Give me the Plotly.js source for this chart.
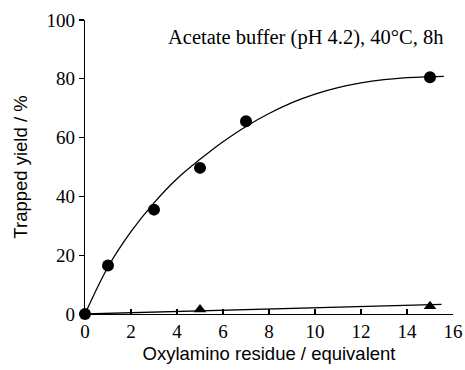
<!DOCTYPE html>
<html>
<head>
<meta charset="utf-8">
<script src="https://cdn.plot.ly/plotly-3.0.1.min.js"></script>
<style>
  html, body { margin: 0; padding: 0; background: #fff; }
  #chart { width: 465px; height: 370px; }
</style>
</head>
<body>
<div id="chart"></div>
<script>
// Measured trapped yields (%) vs. equivalents of oxylamino residue
const circleX = [0, 1, 3, 5, 7, 15];
const circleY = [0, 16.5, 35.5, 49.7, 65.6, 80.5];
const triangleX = [5, 15];
const triangleY = [1.5, 2.6];

// Smooth trend line through the circle series
const curveX = [0, 1, 2, 3, 4, 5, 6, 7, 8, 9, 10, 11, 12, 13, 14, 15, 15.6];
const curveY = [0, 16, 28, 37.8, 46, 52.6, 58.6, 63.8, 68.2, 71.9, 74.8, 77.0, 78.6, 79.7, 80.4, 80.7, 80.8];

// Straight trend line for the triangle series
const lineX = [0, 15.5];
const lineY = [0, 3.3];

const xTicks = [0, 2, 4, 6, 8, 10, 12, 14, 16];
const yTicks = [0, 20, 40, 60, 80, 100];

const serif = '"Liberation Serif", "Times New Roman", serif';
const sans = '"Liberation Sans", Arial, sans-serif';

const traces = [
  {
    x: curveX, y: curveY, mode: 'lines', type: 'scatter',
    line: { color: '#000', width: 1.3, shape: 'spline', smoothing: 1 },
    hoverinfo: 'skip', cliponaxis: false
  },
  {
    x: lineX, y: lineY, mode: 'lines', type: 'scatter',
    line: { color: '#000', width: 1.3 },
    hoverinfo: 'skip', cliponaxis: false
  },
  {
    x: triangleX, y: triangleY, mode: 'markers', type: 'scatter',
    marker: { symbol: 'triangle-up', size: 11, color: '#000' },
    cliponaxis: false
  },
  {
    x: circleX, y: circleY, mode: 'markers', type: 'scatter',
    marker: { symbol: 'circle', size: 12, color: '#000' },
    cliponaxis: false
  }
];

const layout = {
  width: 465, height: 370,
  margin: { l: 85, r: 12, t: 20, b: 56 },
  paper_bgcolor: '#fff', plot_bgcolor: '#fff',
  showlegend: false,
  xaxis: {
    range: [0, 16], tickvals: xTicks, ticktext: xTicks.map(String),
    ticks: 'inside', ticklen: 5, tickwidth: 1.2, tickcolor: '#000',
    showline: true, linecolor: '#000', linewidth: 1.3,
    showgrid: false, zeroline: false,
    tickfont: { family: serif, size: 19, color: '#000' },
    title: { text: 'Oxylamino residue / equivalent', font: { family: sans, size: 18.5, color: '#000' }, standoff: 6 }
  },
  yaxis: {
    range: [0, 100], tickvals: yTicks, ticktext: yTicks.map(String),
    ticks: 'outside', ticklen: 5, tickwidth: 1.2, tickcolor: '#000',
    showline: true, linecolor: '#000', linewidth: 1.3,
    showgrid: false, zeroline: false,
    tickfont: { family: serif, size: 19, color: '#000' },
    title: { text: 'Trapped yield / %', font: { family: sans, size: 18.5, color: '#000' }, standoff: 14 }
  },
  annotations: [{
    xref: 'paper', yref: 'paper', x: 0.977, y: 0.942, xanchor: 'right', yanchor: 'middle',
    text: 'Acetate buffer (pH 4.2), 40°C, 8h', showarrow: false,
    font: { family: serif, size: 20.5, color: '#000' }
  }]
};

Plotly.newPlot('chart', traces, layout, { staticPlot: true, displayModeBar: false });
</script>
</body>
</html>
